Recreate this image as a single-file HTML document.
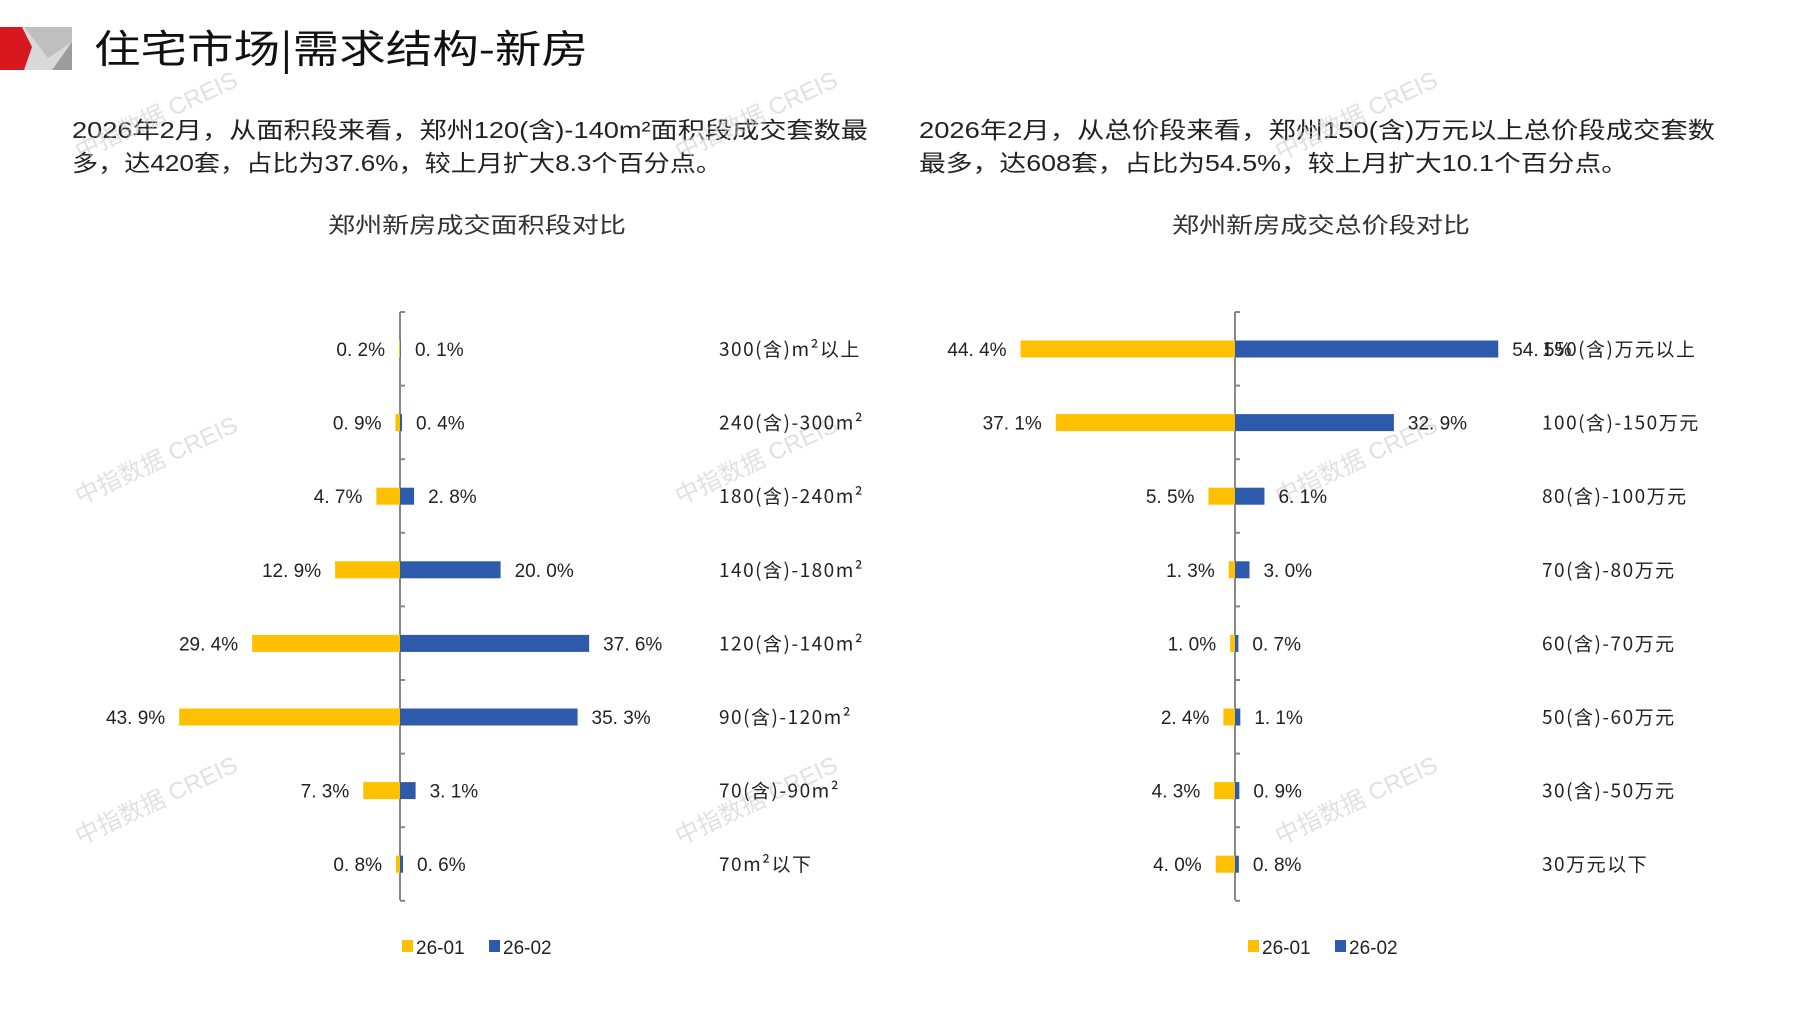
<!DOCTYPE html>
<html><head><meta charset="utf-8"><style>
html,body{margin:0;padding:0;background:#fff;}
svg{display:block;}
text{font-family:"Liberation Sans","Noto Sans CJK SC",sans-serif;}
.c{font-family:"Noto Sans CJK SC","Liberation Sans",sans-serif;}
.cat{letter-spacing:1.5px;}
</style></head><body>
<svg width="1797" height="1010" viewBox="0 0 1797 1010" xmlns="http://www.w3.org/2000/svg">
<rect x="0" y="27" width="72" height="43" fill="#d9d9d9"/>
<polygon points="24,27 72,27 72,42 48,58" fill="#bfbfbf"/>
<polygon points="72,42 72,70 52,70" fill="#8c8c8c" opacity="0.8"/>
<polygon points="0,27 22,27 32,47 24,70 0,70" fill="#d7191f"/>
<text x="94" y="63" font-size="39" class="c" fill="#111" textLength="494" lengthAdjust="spacingAndGlyphs">住宅市场|需求结构-新房</text>
<g class="c" font-size="23" fill="#222">
<text x="72" y="138" textLength="796" lengthAdjust="spacingAndGlyphs">2026年2月，从面积段来看，郑州120(含)-140m²面积段成交套数最</text>
<text x="72" y="171" textLength="650" lengthAdjust="spacingAndGlyphs">多，达420套，占比为37.6%，较上月扩大8.3个百分点。</text>
<text x="919" y="138" textLength="796" lengthAdjust="spacingAndGlyphs">2026年2月，从总价段来看，郑州150(含)万元以上总价段成交套数</text>
<text x="919" y="171" textLength="709" lengthAdjust="spacingAndGlyphs">最多，达608套，占比为54.5%，较上月扩大10.1个百分点。</text>
</g>
<g class="c" font-size="22" fill="#333">
<text x="328" y="233" textLength="298" lengthAdjust="spacingAndGlyphs">郑州新房成交面积段对比</text>
<text x="1172" y="233" textLength="298" lengthAdjust="spacingAndGlyphs">郑州新房成交总价段对比</text>
</g>
<g class="c" font-size="24" fill="#ccc" opacity="0.6">
<text transform="translate(80,160) rotate(-25)">中指数据 CREIS</text>
<text transform="translate(680,160) rotate(-25)">中指数据 CREIS</text>
<text transform="translate(1280,160) rotate(-25)">中指数据 CREIS</text>
<text transform="translate(80,505) rotate(-25)">中指数据 CREIS</text>
<text transform="translate(680,505) rotate(-25)">中指数据 CREIS</text>
<text transform="translate(1280,505) rotate(-25)">中指数据 CREIS</text>
<text transform="translate(80,845) rotate(-25)">中指数据 CREIS</text>
<text transform="translate(680,845) rotate(-25)">中指数据 CREIS</text>
<text transform="translate(1280,845) rotate(-25)">中指数据 CREIS</text>
</g>
<g id="charts" font-size="19" fill="#222"></g>
<g font-size="19" fill="#222">
<rect x="402" y="940" width="11" height="12" fill="#FFC000"/><text x="416" y="954">26-01</text>
<rect x="489" y="940" width="11" height="12" fill="#2E5AAC"/><text x="503" y="954">26-02</text>
<rect x="1248" y="940" width="11" height="12" fill="#FFC000"/><text x="1262" y="954">26-01</text>
<rect x="1335" y="940" width="11" height="12" fill="#2E5AAC"/><text x="1349" y="954">26-02</text>
</g>
<script>
(function(){
var ns="http://www.w3.org/2000/svg",g=document.getElementById('charts');
function el(t,a,txt){var e=document.createElementNS(ns,t);for(var k in a)e.setAttribute(k,a[k]);if(txt!=null)e.textContent=txt;g.appendChild(e);return e;}
function chart(ax,sc,catX,data){
 var y0=349,dy=73.6;
 el('line',{x1:ax,y1:312,x2:ax,y2:900,stroke:'#888','stroke-width':2});
 for(var i=0;i<=8;i++){var ty=312+i*dy;el('line',{x1:ax,y1:ty,x2:ax+5,y2:ty,stroke:'#888','stroke-width':2});}
 data.forEach(function(d,i){
  var cy=y0+i*dy,wy=d[1]*sc,wb=d[2]*sc;
  el('rect',{x:ax-wy,y:cy-8.5,width:wy,height:17,fill:'#FFC000'});
  el('rect',{x:ax,y:cy-8.5,width:wb,height:17,fill:'#2E5AAC'});
  el('text',{x:ax-Math.max(wy,1)-14,y:cy+7,'text-anchor':'end'},d[1].toFixed(1).replace('.', '. ')+'%');
  el('text',{x:ax+Math.max(wb,1)+14,y:cy+7},d[2].toFixed(1).replace('.', '. ')+'%');
  el('text',{x:catX,y:cy+7,'class':'c cat'},d[0]);
 });
}
chart(400,5.03,719,[['300(含)m²以上',0.2,0.1],['240(含)-300m²',0.9,0.4],['180(含)-240m²',4.7,2.8],['140(含)-180m²',12.9,20.0],['120(含)-140m²',29.4,37.6],['90(含)-120m²',43.9,35.3],['70(含)-90m²',7.3,3.1],['70m²以下',0.8,0.6]]);
chart(1235,4.83,1542,[['150(含)万元以上',44.4,54.5],['100(含)-150万元',37.1,32.9],['80(含)-100万元',5.5,6.1],['70(含)-80万元',1.3,3.0],['60(含)-70万元',1.0,0.7],['50(含)-60万元',2.4,1.1],['30(含)-50万元',4.3,0.9],['30万元以下',4.0,0.8]]);
})();
</script>
</svg>
</body></html>
